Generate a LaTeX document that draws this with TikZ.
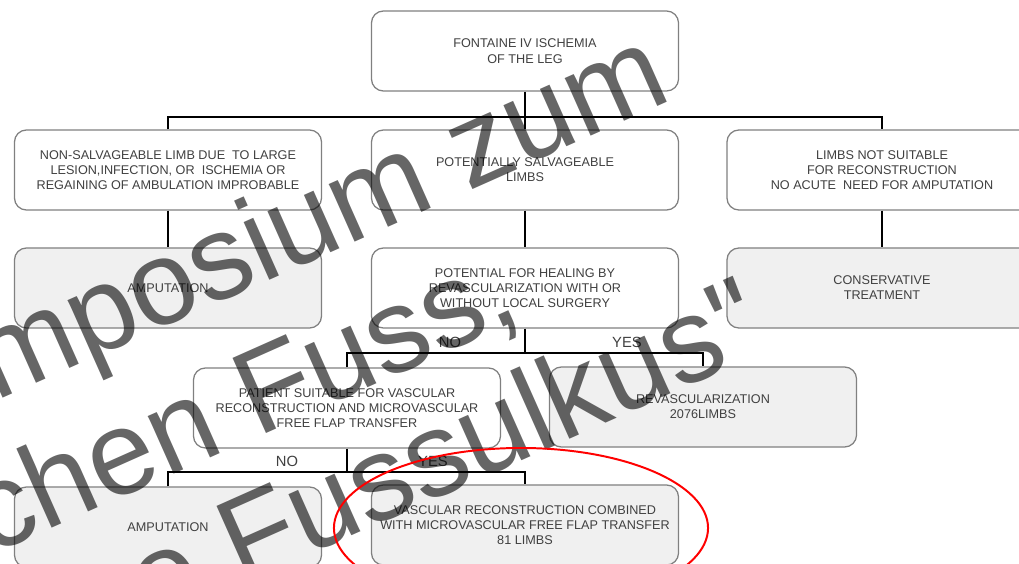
\documentclass[tikz,border=0pt]{standalone}
\usepackage{fontspec}
\setmainfont{Liberation Sans}
\newfontfamily\wmfont{Liberation Sans}

\tikzset{
  stage/.style={draw=black!50, line width=0.9pt, rounded corners=0.3cm, fill=white,
    minimum width=7.675cm, minimum height=2cm, align=center, text=black!75,
    font=\fontsize{9}{10.7}\selectfont},
  grey stage/.style={stage, fill=black!6},
  link/.style={line width=1.5pt},
  answer/.style={text=black!75, font=\fontsize{10.5}{12}\selectfont},
  overprint/.style={text=black, text opacity=0.6, font=\wmfont\fontsize{85}{90}\selectfont,
    anchor=base west, rotate=24, inner sep=0pt},
}

\begin{document}
\begin{tikzpicture}[x=0.025cm, y=-0.025cm]
  \useasboundingbox (0,0) rectangle (1019,564);
  \clip (0,0) rectangle (1019,564);

  % top
  \node[stage] (leg) at (525,51) {FONTAINE IV ISCHEMIA\\[1pt]OF THE LEG};
  % second row
  \node[stage] (nonsalv) at (168,170) {NON-SALVAGEABLE LIMB DUE\ \ TO LARGE\\LESION,INFECTION, OR\ \ ISCHEMIA OR\\REGAINING OF AMBULATION IMPROBABLE};
  \node[stage] (salv) at (525,170) {POTENTIALLY SALVAGEABLE\\LIMBS};
  \node[stage, minimum width=7.75cm] (unsuit) at (882,170) {LIMBS NOT SUITABLE\\FOR RECONSTRUCTION\\NO ACUTE\ \ NEED FOR AMPUTATION};
  % third row
  \node[grey stage] (amp) at (168,288) {AMPUTATION};
  \node[stage] (healing) at (525,288) {POTENTIAL FOR HEALING BY\\REVASCULARIZATION WITH OR\\WITHOUT LOCAL SURGERY};
  \node[grey stage, minimum width=7.75cm] (conserv) at (882,288) {CONSERVATIVE\\TREATMENT};
  % fourth row
  \node[stage] (suitable) at (347,408) {PATIENT SUITABLE FOR VASCULAR\\RECONSTRUCTION AND MICROVASCULAR\\FREE FLAP TRANSFER};
  \node[grey stage] (revasc) at (703,407) {REVASCULARIZATION\\2076LIMBS};
  % last row
  \node[grey stage] (ampB) at (168,527) {AMPUTATION};
  \node[grey stage] (flap) at (525,525) {VASCULAR RECONSTRUCTION COMBINED\\WITH MICROVASCULAR FREE FLAP TRANSFER\\81 LIMBS};

  \coordinate (split) at (525,117);
  \coordinate (choice) at (525,353);
  \coordinate (choiceB) at (347,472);

  \draw[link] (leg) -- (salv);
  \draw[link] (nonsalv.north) |- (split) -| (unsuit.north);
  \draw[link] (nonsalv) -- (amp);
  \draw[link] (salv) -- (healing);
  \draw[link] (unsuit) -- (conserv);
  \draw[link] (healing) -- (choice);
  \draw[link] (suitable.north) |- (choice) -| (revasc.north);
  \draw[link] (suitable) -- (choiceB);
  \draw[link] (ampB.north) |- (choiceB) -| (flap.north);

  \node[answer] (no) at (450,342) {NO};
  \node[answer] (yes) at (627,342) {YES};
  \node[answer] (noB) at (287,461) {NO};
  \node[answer] (yesB) at (433,461) {YES};

  % watermark
  \node[overprint] (wmA) at (-5,402) {mposium zum};
  \node[overprint] (wmB) at (-10,556) {chen Fuss,};
  \node[overprint] (wmC) at (150,626) {e Fussulkus"};

  \draw[red, line width=1.4pt] (521,528) ellipse [x radius=4.675cm, y radius=2cm];
\end{tikzpicture}
\end{document}
